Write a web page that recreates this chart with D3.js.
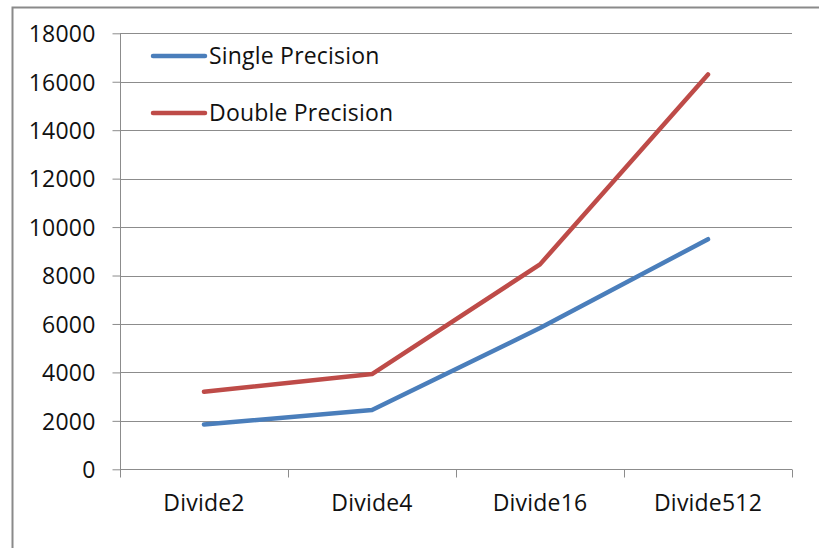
<!DOCTYPE html>
<html>
<head>
<meta charset="utf-8">
<script src="https://cdnjs.cloudflare.com/ajax/libs/d3/7.8.5/d3.min.js"></script>
<style>
  html, body { margin: 0; padding: 0; background: #fff; }
  svg text { font-family: "Open Sans", "Noto Sans", sans-serif; fill: #111; letter-spacing: 0.2px; }
</style>
</head>
<body>
<svg id="chart" width="819" height="548"></svg>
<script>
// Throughput by divide kernel, single vs double precision
const categories = ["Divide2", "Divide4", "Divide16", "Divide512"];
const singlePrecision = [1850, 2450, 5830, 9500];
const doublePrecision = [3200, 3930, 8460, 16300];
const seriesNames = ["Single Precision", "Double Precision"];
const seriesColors = ["#4a7ebb", "#be4b48"];
const yTicks = [0, 2000, 4000, 6000, 8000, 10000, 12000, 14000, 16000, 18000];

const svg = d3.select("#chart");
const plot = { left: 120, right: 792, top: 33.3, bottom: 469.3 };
const fontSize = "23px";

// chart frame
svg.append("rect")
  .attr("x", 12.5).attr("y", 7.5)
  .attr("width", 830).attr("height", 560)
  .attr("fill", "none").attr("stroke", "#8a8a8a").attr("stroke-width", 2);

const x = d3.scaleBand().domain(categories).range([plot.left, plot.right]).padding(0);
const y = d3.scaleLinear().domain([0, 18000]).range([plot.bottom, plot.top]);

// horizontal gridlines
svg.append("g")
  .selectAll("line")
  .data(yTicks.filter(t => t > 0))
  .join("line")
  .attr("x1", plot.left).attr("x2", plot.right)
  .attr("y1", d => Math.round(y(d)) + 0.5).attr("y2", d => Math.round(y(d)) + 0.5)
  .attr("stroke", "#8c8c8c").attr("stroke-width", 1);

// y axis
const yAxis = svg.append("g")
  .attr("transform", `translate(${plot.left + 0.5},0)`)
  .call(d3.axisLeft(y).tickValues(yTicks).tickSize(8).tickPadding(17).tickFormat(d3.format("d")));
yAxis.select(".domain").attr("stroke", "#8c8c8c").attr("d", `M0,${plot.top}V${plot.bottom}`);
yAxis.selectAll(".tick line").attr("stroke", "#8c8c8c");
yAxis.selectAll(".tick text").style("font-size", fontSize).attr("dy", "0.36em");

// x axis with ticks at category boundaries
const xAxis = svg.append("g")
  .attr("transform", `translate(0,${Math.round(plot.bottom) + 0.5})`);
xAxis.append("line")
  .attr("x1", plot.left).attr("x2", plot.right)
  .attr("stroke", "#8c8c8c");
const bounds = categories.map(c => x(c)).concat([x(categories[categories.length - 1]) + x.bandwidth()]);
xAxis.selectAll("line.tk")
  .data(bounds)
  .join("line")
  .attr("class", "tk")
  .attr("x1", d => Math.round(d) + 0.5).attr("x2", d => Math.round(d) + 0.5)
  .attr("y1", 0).attr("y2", 8)
  .attr("stroke", "#8c8c8c");
xAxis.selectAll("text")
  .data(categories)
  .join("text")
  .attr("x", d => x(d) + x.bandwidth() / 2)
  .attr("y", 41)
  .attr("text-anchor", "middle")
  .style("font-size", fontSize)
  .text(d => d);

// series lines
const line = d3.line()
  .x((d, i) => x(categories[i]) + x.bandwidth() / 2)
  .y(d => y(d));

[singlePrecision, doublePrecision].forEach((vals, i) => {
  svg.append("path")
    .datum(vals)
    .attr("d", line)
    .attr("fill", "none")
    .attr("stroke", seriesColors[i])
    .attr("stroke-width", 4.5)
    .attr("stroke-linecap", "round")
    .attr("stroke-linejoin", "round");
});

// legend
const legend = svg.append("g");
seriesNames.forEach((name, i) => {
  const ly = 56 + i * 57;
  legend.append("line")
    .attr("x1", 153).attr("x2", 205)
    .attr("y1", ly).attr("y2", ly)
    .attr("stroke", seriesColors[i]).attr("stroke-width", 4.5)
    .attr("stroke-linecap", "round");
  legend.append("text")
    .attr("x", 209).attr("y", ly)
    .attr("dy", "0.36em")
    .style("font-size", fontSize)
    .text(name);
});
</script>
</body>
</html>
